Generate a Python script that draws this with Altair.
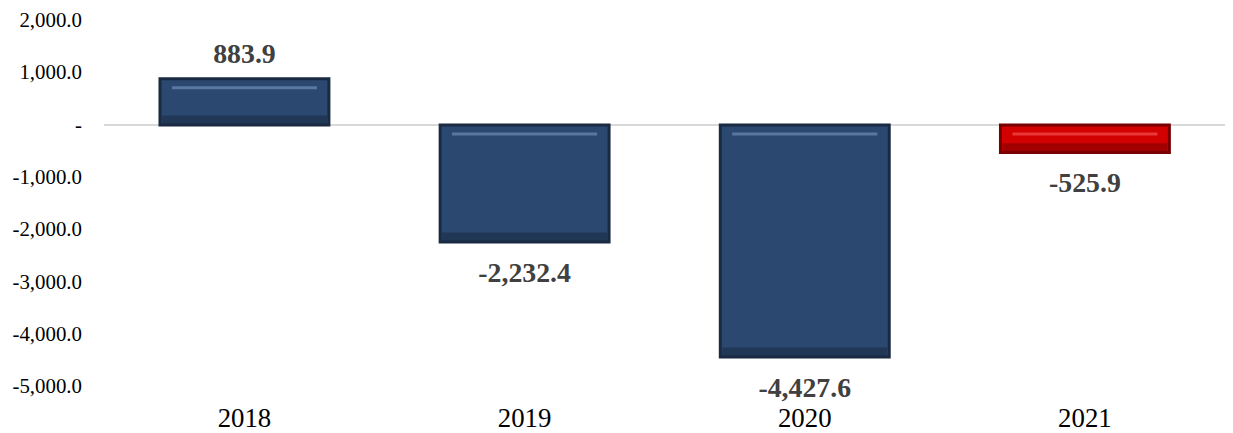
import altair as alt
import pandas as pd

years = ["2018", "2019", "2020", "2021"]
values = [883.9, -2232.4, -4427.6, -525.9]
y_ticks = [2000, 1000, 0, -1000, -2000, -3000, -4000, -5000]

df = pd.DataFrame({"year": years, "value": values})

FONT = "Liberation Serif"
NAVY = "#2B4870"
NAVY_DARK = "#1A2A42"
NAVY_HI = "#6A88B2"
RED = "#D20000"
RED_DARK = "#780000"
RED_HI = "#F24A4A"

is_last = alt.datum.year == "2021"

x = alt.X(
    "year:N",
    sort=years,
    scale=alt.Scale(paddingInner=0.397, paddingOuter=0.1985),
    axis=alt.Axis(
        title=None, orient="bottom", labelAngle=0, ticks=False, domain=False,
        labelFont=FONT, labelFontSize=27, labelColor="#000000", labelPadding=19,
    ),
)
yscale = alt.Scale(domain=[-5000, 2000], nice=False, zero=False)
yaxis = alt.Axis(
    title=None, values=y_ticks, ticks=False, domain=False, grid=False,
    labelFont=FONT, labelFontSize=21, labelColor="#000000", labelPadding=23,
    labelExpr="datum.value == 0 ? '-\u00a0\u00a0' : replace(format(datum.value, ',.1f'), '\u2212', '-')",
)

base = alt.Chart(df).encode(x=x)

zero_rule = alt.Chart(df).mark_rule(color="#D9D9D9", strokeWidth=2).encode(
    y=alt.datum(0, scale=yscale, axis=yaxis)
)

bars = base.mark_bar(strokeWidth=3, strokeJoin="miter").encode(
    y=alt.Y("value:Q", scale=yscale, axis=yaxis),
    fill=alt.condition(is_last, alt.value(RED), alt.value(NAVY)),
    stroke=alt.condition(is_last, alt.value(RED_DARK), alt.value(NAVY_DARK)),
)

top_hi = base.transform_calculate(top="max(datum.value, 0)").mark_tick(
    thickness=3, size=146, yOffset=9, opacity=0.75
).encode(
    y=alt.Y("top:Q", scale=yscale, axis=yaxis),
    color=alt.condition(is_last, alt.value(RED_HI), alt.value(NAVY_HI)),
)

bottom_dark = base.transform_calculate(bot="min(datum.value, 0)").mark_tick(
    thickness=9, size=166, yOffset=-5, opacity=0.55
).encode(
    y=alt.Y("bot:Q", scale=yscale, axis=yaxis),
    color=alt.condition(is_last, alt.value(RED_DARK), alt.value(NAVY_DARK)),
)

label_calc = "replace(format(datum.value, ',.1f'), '\u2212', '-')"

lab_pos = base.transform_filter(alt.datum.value >= 0).transform_calculate(
    label=label_calc
).mark_text(
    font=FONT, fontSize=28, fontWeight="bold", color="#404040", dy=-24, baseline="middle"
).encode(
    y=alt.Y("value:Q", scale=yscale, axis=yaxis),
    text="label:N",
)

lab_neg = base.transform_filter(alt.datum.value < 0).transform_calculate(
    label=label_calc
).mark_text(
    font=FONT, fontSize=28, fontWeight="bold", color="#404040", dy=32, baseline="middle"
).encode(
    y=alt.Y("value:Q", scale=yscale, axis=yaxis),
    text="label:N",
)

chart = alt.layer(zero_rule, bars, bottom_dark, top_hi, lab_pos, lab_neg).properties(
    width=1128,
    height=369,
    background="white",
    autosize=alt.AutoSizeParams(type="none"),
    padding={"left": 97, "top": 11, "right": 0, "bottom": 45},
).configure_view(stroke=None).configure_axis(grid=False)

chart.save("out.html", embed_options={"renderer": "svg", "actions": False})
